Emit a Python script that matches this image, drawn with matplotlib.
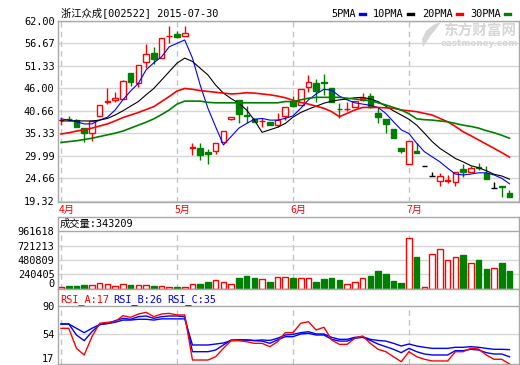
import numpy as np
import matplotlib.pyplot as plt
from matplotlib.patches import Rectangle, Polygon
from matplotlib.lines import Line2D

plt.rcParams['font.family'] = ['DejaVu Sans Mono', 'Noto Sans CJK SC']

W, H = 520, 365

# ---- data ----
title = '浙江众成[002522] 2015-07-30'
months = ['4月', '5月', '6月', '7月']
month_idx = [0, 15, 30, 45]

price_ticks = [62.00, 56.67, 51.33, 46.00, 40.66, 35.33, 29.99, 24.66, 19.32]
vol_ticks = [0, 240405, 480809, 721213, 961618]
rsi_ticks = [17, 54, 90]
last_vol = 343209
rsi_last = [17, 26, 35]

opens = [38.5, 38.8, 38.5, 36.6, 35.4, 39.4, 42.8, 43.2, 43.6, 49.6,
         47.4, 52.2, 54.3, 53.2, 58.45, 58.8, 58.5, 31.95, 31.8, 31.0,
         31.2, 33.4, 38.8, 43.3, 39.7, 38.7, 38.25, 38.0, 37.4, 39.5,
         42.9, 42.1, 46.3, 47.4, 47.5, 46.0, 41.15, 41.05, 41.5, 43.3,
         44.2, 40.1, 38.8, 36.3, 31.8, 28.0, 31.2, 27.7, 25.25, 24.05,
         24.15, 23.75, 26.9, 26.1, 27.3, 26.0, 22.5, 22.8, 21.15]
highs = [39.3, 39.55, 38.7, 36.7, 38.6, 42.0, 46.0, 45.2, 48.0, 49.6,
         51.6, 56.5, 55.9, 57.9, 60.8, 59.6, 60.8, 33.1, 33.0, 31.6,
         33.0, 36.0, 39.3, 43.3, 41.8, 38.9, 38.9, 38.1, 40.1, 41.5,
         44.1, 45.8, 49.2, 48.2, 49.4, 46.2, 42.6, 42.9, 43.0, 44.9,
         44.9, 41.5, 38.8, 36.3, 31.8, 33.6, 33.0, 27.7, 26.3, 25.9,
         25.5, 26.3, 28.1, 27.6, 28.25, 27.5, 23.75, 22.8, 21.9]
lows = [37.4, 38.3, 36.8, 33.2, 33.6, 39.4, 42.2, 42.7, 43.6, 46.7,
        46.4, 50.9, 51.7, 53.2, 56.9, 57.9, 58.5, 30.2, 29.0, 28.1,
        30.5, 33.4, 38.5, 37.7, 37.7, 38.1, 36.9, 37.3, 36.9, 38.5,
        41.5, 42.1, 45.2, 42.9, 44.5, 42.9, 38.9, 40.7, 41.5, 43.0,
        41.3, 37.7, 35.5, 34.2, 30.8, 28.0, 30.6, 27.7, 25.25, 22.9,
        23.5, 22.9, 25.1, 26.1, 26.7, 24.5, 22.5, 20.2, 20.35]
closes = [38.55, 38.7, 36.8, 35.4, 38.4, 42.0, 43.0, 43.7, 47.8, 47.5,
          51.6, 54.2, 53.0, 57.9, 58.55, 58.3, 59.1, 32.05, 30.2, 30.4,
          33.0, 36.0, 39.3, 39.9, 39.5, 38.1, 38.35, 37.3, 38.5, 41.5,
          41.9, 45.8, 47.6, 45.5, 47.3, 42.9, 41.05, 41.15, 43.0, 43.7,
          41.7, 39.3, 37.6, 34.2, 31.2, 33.6, 30.6, 27.7, 25.25, 25.25,
          24.25, 26.3, 26.1, 27.2, 27.1, 24.5, 22.5, 22.6, 20.35]

ma5 = [38.8, 38.5, 38.1, 37.6, 37.6, 38.5, 39.2, 40.9, 43.3, 45.4,
       47.2, 50.4, 52.1, 53.5, 55.9, 56.7, 57.5, 53.2, 46.8, 41.3,
       36.9, 32.6, 34.6, 36.6, 37.7, 38.7, 38.9, 38.5, 38.5, 38.9,
       39.5, 41.3, 43.3, 44.7, 45.8, 45.6, 44.2, 43.3, 42.6, 42.3,
       42.0, 41.5, 40.1, 38.1, 36.2, 35.3, 33.0, 31.0, 29.8, 28.6,
       27.1, 25.7, 25.5, 25.7, 26.0, 26.0, 25.5, 24.7, 23.4]
ma10 = [38.3, 38.3, 38.3, 38.3, 38.3, 38.5, 38.9, 39.7, 40.7, 41.8,
        42.9, 44.5, 46.0, 48.0, 50.0, 52.0, 53.2, 52.4, 50.8, 49.2,
        46.8, 44.9, 43.6, 42.5, 40.9, 38.5, 35.6, 36.2, 36.8, 37.7,
        39.2, 40.3, 41.1, 41.8, 42.5, 43.0, 43.3, 43.5, 43.8, 43.9,
        43.5, 42.9, 41.8, 40.7, 39.7, 38.7, 37.3, 35.4, 33.4, 31.8,
        30.6, 29.4, 28.6, 27.7, 27.2, 26.5, 25.65, 25.25, 24.5]
ma20 = [35.2, 35.5, 35.9, 36.2, 36.6, 37.1, 37.6, 38.3, 39.1, 39.7,
        40.3, 41.0, 41.7, 42.9, 44.1, 45.4, 46.0, 45.8, 45.5, 45.3,
        45.1, 44.9, 44.7, 44.8, 45.0, 44.9, 44.7, 44.5, 44.2, 43.8,
        43.2, 42.7, 42.3, 41.8, 41.3, 40.5, 39.3, 40.1, 40.9, 41.5,
        41.5, 41.5, 41.4, 41.3, 40.9, 40.7, 40.5, 40.1, 39.7, 38.9,
        38.1, 37.0, 35.75, 34.8, 33.8, 32.8, 31.8, 30.8, 29.7]
ma30 = [33.2, 33.4, 33.6, 33.9, 34.2, 34.6, 35.0, 35.4, 35.9, 36.6,
        37.3, 38.0, 38.8, 39.8, 40.9, 42.3, 43.0, 43.0, 43.0, 42.7,
        42.6, 42.6, 42.6, 42.6, 42.6, 42.6, 42.6, 42.6, 42.6, 42.9,
        42.9, 43.3, 43.7, 43.9, 43.9, 43.9, 43.9, 43.7, 43.5, 43.3,
        43.1, 42.6, 42.1, 41.5, 40.9, 40.0, 38.8, 38.6, 38.5, 38.3,
        38.1, 37.7, 37.3, 37.0, 36.6, 36.0, 35.5, 34.9, 34.2]

volume = [33e3, 55e3, 55e3, 66e3, 66e3, 94e3, 78e3, 50e3, 78e3, 66e3,
          66e3, 66e3, 55e3, 50e3, 38e3, 38e3, 38e3, 83e3, 78e3, 121e3,
          149e3, 111e3, 83e3, 187e3, 216e3, 177e3, 161e3, 111e3, 194e3, 204e3,
          182e3, 177e3, 177e3, 111e3, 161e3, 182e3, 144e3, 78e3, 121e3, 177e3,
          216e3, 298e3, 244e3, 133e3, 99e3, 841e3, 531e3, 33e3, 575e3, 658e3,
          481e3, 536e3, 564e3, 426e3, 481e3, 332e3, 343e3, 426e3, 298e3]

rsi_a = [61.7, 61.7, 36.6, 28.3, 51.2, 68.0, 69.2, 70.0, 77.5, 75.4,
         79.6, 81.7, 76.3, 79.6, 80.4, 78.4, 78.4, 22.0, 22.0, 22.0,
         26.1, 36.6, 46.2, 46.2, 44.9, 42.9, 42.9, 38.7, 44.9, 56.2,
         56.2, 68.0, 70.0, 59.6, 63.0, 47.1, 41.6, 41.6, 49.2, 52.1,
         42.9, 35.4, 32.4, 26.1, 19.9, 32.4, 26.1, 22.9, 20.8, 20.8,
         20.8, 32.4, 32.4, 36.6, 35.8, 28.3, 22.9, 22.9, 17.0]
rsi_b = [67.1, 67.1, 53.3, 46.2, 57.4, 66.4, 68.0, 71.2, 74.2, 73.0,
         76.2, 77.1, 74.2, 76.2, 77.1, 77.1, 76.2, 32.4, 32.4, 32.4,
         34.5, 40.8, 47.1, 47.1, 47.1, 46.2, 45.7, 42.9, 47.1, 51.2,
         51.2, 54.6, 55.4, 53.3, 53.3, 47.9, 45.7, 45.7, 49.2, 50.4,
         46.5, 42.0, 38.7, 35.4, 31.2, 36.6, 32.4, 29.5, 28.3, 28.3,
         28.3, 33.7, 33.7, 35.4, 34.5, 31.2, 29.5, 29.5, 26.0]
rsi_c = [67.1, 67.1, 61.7, 56.2, 61.7, 66.4, 67.5, 69.2, 72.0, 72.0,
         73.0, 73.0, 72.0, 73.5, 73.5, 73.5, 73.5, 40.8, 40.8, 40.8,
         42.0, 43.3, 46.2, 47.1, 47.1, 46.5, 47.1, 46.5, 49.2, 53.3,
         54.1, 56.2, 57.4, 54.6, 54.6, 50.4, 47.9, 47.9, 50.4, 51.2,
         47.9, 46.5, 45.7, 42.9, 39.5, 42.0, 39.5, 37.9, 36.6, 36.6,
         36.6, 37.9, 37.9, 38.7, 37.9, 36.6, 35.4, 35.4, 35.0]

# ---- style ----
RED, GREEN, BLUE = '#ff0000', '#008000', '#0000ff'
FRAME, GRID, DASH = '#a8a8a8', '#d6d6d6', '#c4c4c4'
WM = '#d6d6d6'
FS = 7.4

idx = np.arange(len(closes))
XLIM = (-0.39, 59.23)
BW = 0.72


def rect(x0, y0, x1, y1):
    return [x0 / W, 1 - y1 / H, (x1 - x0) / W, (y1 - y0) / H]


def style(ax):
    for s in ax.spines.values():
        s.set_color(FRAME)
        s.set_linewidth(1)
    ax.set_xlim(*XLIM)
    ax.set_xticks([])
    ax.tick_params(axis='y', length=0, pad=2.5, labelsize=FS, colors='black')


fig = plt.figure(figsize=(W / 100, H / 100), dpi=100)

# ---- price panel ----
ax = fig.add_axes(rect(58, 21, 519, 201.7))
style(ax)
ax.set_ylim(19.15, 62.0)
ax.set_yticks(price_ticks)
ax.set_yticklabels(['%.2f' % t for t in price_ticks])
for t in price_ticks:
    ax.axhline(t, color=GRID, lw=1, zorder=0)
for m in month_idx:
    ax.axvline(m, color=DASH, lw=1, ls=(0, (4, 3)), zorder=0)

for i in idx:
    o, h, l, c = opens[i], highs[i], lows[i], closes[i]
    if c > o:
        col, face = RED, 'white'
    elif c < o:
        col, face = GREEN, GREEN
    else:
        col, face = 'black', 'black'
    top, bot = max(o, c), min(o, c)
    ax.vlines(i, top, h, color=col, lw=1, zorder=2)
    ax.vlines(i, l, bot, color=col, lw=1, zorder=2)
    if top == bot:
        ax.hlines(o, i - BW / 2, i + BW / 2, color=col, lw=1, zorder=2)
    else:
        ax.add_patch(Rectangle((i - BW / 2, bot), BW, top - bot, facecolor=face,
                               edgecolor=col, lw=1, zorder=2))

ax.plot(idx, ma5, color=BLUE, lw=0.8, zorder=3)
ax.plot(idx, ma10, color='black', lw=0.8, zorder=3)
ax.plot(idx, ma20, color=RED, lw=1.2, zorder=3)
ax.plot(idx, ma30, color=GREEN, lw=1.2, zorder=3)

for m, lab in zip(month_idx, months):
    ax.text(m - 0.3, -0.02, lab, transform=ax.get_xaxis_transform(), color=RED,
            fontsize=FS, ha='left', va='top', family='Noto Sans CJK SC')

# ---- volume panel ----
vax = fig.add_axes(rect(58, 217, 519, 289))
style(vax)
vtop = vol_ticks[-1] * 72 / 58
vax.set_ylim(0, vtop)
vax.set_yticks(vol_ticks)
vax.set_yticklabels([str(t) for t in vol_ticks])
vax.get_yticklabels()[0].set_va('bottom')
for t in vol_ticks[1:-1]:
    vax.axhline(t, color=GRID, lw=1, zorder=0)
vax.axhline(vol_ticks[-1], color=FRAME, lw=1, zorder=0)
for m in month_idx:
    vax.axvline(m, ymax=vol_ticks[-1] / vtop, color=DASH, lw=1, ls=(0, (4, 3)), zorder=0)
for i in idx:
    if closes[i] >= opens[i]:
        vax.add_patch(Rectangle((i - BW / 2, 0), BW, volume[i], facecolor='white',
                                edgecolor=RED, lw=1, zorder=2))
    else:
        vax.add_patch(Rectangle((i - BW / 2, 0), BW, volume[i], facecolor=GREEN,
                                edgecolor=GREEN, lw=1, zorder=2))
vax.text(0.004, 0.9, '成交量:%d' % last_vol, transform=vax.transAxes, fontsize=FS,
         ha='left', va='center')

# ---- RSI panel ----
rax = fig.add_axes(rect(58, 289, 519, 364))
style(rax)
rtop = 90 + (305.7 - 289) / ((364 - 305.7) / 73)
rax.set_ylim(17, rtop)
rax.set_yticks(rsi_ticks)
rax.set_yticklabels([str(t) for t in rsi_ticks])
rax.get_yticklabels()[0].set_va('bottom')
rax.axhline(54, color=GRID, lw=1, zorder=0)
rax.axhline(90, color=FRAME, lw=1, zorder=0)
for m in month_idx:
    rax.axvline(m, ymax=(90 - 17) / (rtop - 17), color=DASH, lw=1, ls=(0, (4, 3)), zorder=0)
rax.plot(idx, rsi_c, color=BLUE, lw=1, zorder=2)
rax.plot(idx, rsi_b, color=BLUE, lw=1, zorder=2)
rax.plot(idx, rsi_a, color=RED, lw=1, zorder=3)
for k, (name, col) in enumerate(zip(['RSI_A', 'RSI_B', 'RSI_C'], [RED, BLUE, BLUE])):
    fig.text((60 + k * 53.5) / W, 1 - 299.5 / H, '%s:%d' % (name, rsi_last[k]),
             color=col, fontsize=FS, ha='left', va='center')

# ---- header ----
fig.text(61 / W, 1 - 13 / H, title, fontsize=FS, ha='left', va='center')
leg = [('5PMA', BLUE, 331), ('10PMA', 'black', 373), ('20PMA', RED, 422), ('30PMA', GREEN, 470)]
for name, col, x0 in leg:
    fig.text(x0 / W, 1 - 14 / H, name, fontsize=FS, ha='left', va='center')
    x1 = x0 + len(name) * 6.2 + 4
    fig.add_artist(Line2D([x1 / W, (x1 + 5) / W], [1 - 14 / H] * 2, color=col, lw=2.4))

# watermark: feather logo + site name
logo = [(441, 22), (433, 25), (426, 31), (422, 39), (423, 47),
        (427, 41), (431, 35), (436, 29)]
fig.add_artist(Polygon([(x / W, 1 - y / H) for x, y in logo], closed=True,
                       facecolor=WM, edgecolor='none', transform=fig.transFigure))
fig.text(480 / W, 1 - 31 / H, '东方财富网', fontsize=10.5, color=WM, weight='bold',
         ha='center', va='center', family='Noto Sans CJK SC')
fig.text(479 / W, 1 - 43.5 / H, 'eastmoney.com', fontsize=6.3, color=WM,
         weight='bold', ha='center', va='center', family='DejaVu Sans')

fig.savefig('out.png', dpi=100)
